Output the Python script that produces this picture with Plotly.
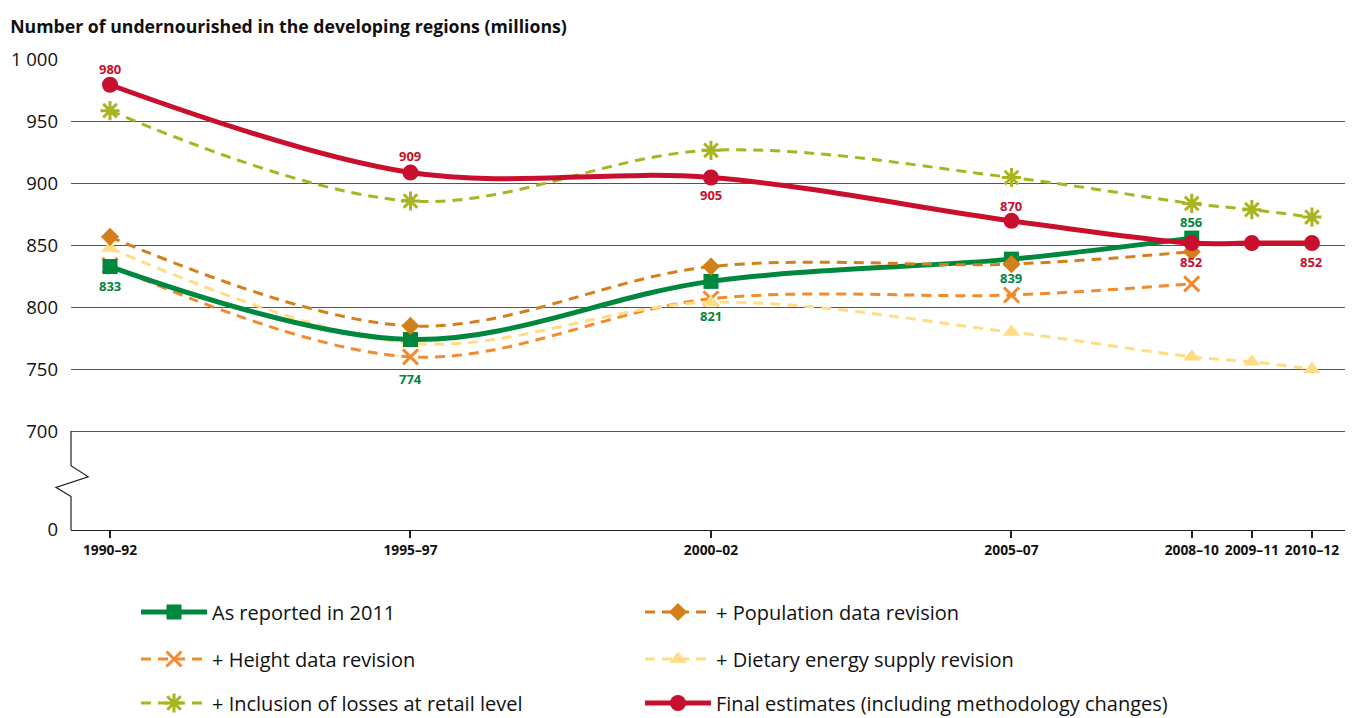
import plotly.graph_objects as go

periods = ["1990–92", "1995–97", "2000–02", "2005–07", "2008–10", "2009–11", "2010–12"]
period_mid = [1991, 1996, 2001, 2006, 2009, 2010, 2011]

as_reported_2011 = [833, 774, 821, 839, 856]
population_rev = [857, 785, 833, 835, 845]
height_rev = [834, 760, 807, 810, 819]
dietary_rev = [848, 771, 804, 780, 760, 756, 750]
losses_retail = [959, 886, 927, 905, 884, 879, 873]
final_estimates = [980, 909, 905, 870, 852, 852, 852]

green_labels = ["833", "774", "821", "839", "856"]
red_labels = ["980", "909", "905", "870", "852", "", "852"]
# label offsets (px, positive = above the point)
green_shift = [-19, -39, -35, -19, 16]
red_shift = [16, 17, -17, 15, -19, 0, -19]

Y_BREAK = 620  # data value drawn at the "0" position (axis break)

C_GREEN = "#00873E"
C_RED = "#C8102E"
C_POP = "#D4801A"
C_HEIGHT = "#F28A2E"
C_DIET = "#FFDD85"
C_LOSS = "#A9B421"

FONT = "Open Sans"

fig = go.Figure()

# drawing order: height, dietary, green, population, losses, red (legend positions set separately)
fig.add_trace(go.Scatter(
    x=period_mid[:5], y=height_rev, name="+ Height data revision",
    mode="lines+markers",
    line=dict(color=C_HEIGHT, width=3, dash="10px,7px", shape="spline", smoothing=1.0),
    marker=dict(symbol="x-thin-open", size=15, color=C_HEIGHT, line=dict(width=3, color=C_HEIGHT)),
    legend="legend3"))

fig.add_trace(go.Scatter(
    x=period_mid, y=dietary_rev, name="+ Dietary energy supply revision",
    mode="lines+markers",
    line=dict(color=C_DIET, width=3, dash="10px,7px", shape="spline", smoothing=1.0),
    marker=dict(symbol="triangle-up", size=15, color=C_DIET),
    legend="legend4"))

fig.add_trace(go.Scatter(
    x=period_mid[:5], y=as_reported_2011, name="As reported in 2011",
    mode="lines+markers",
    line=dict(color=C_GREEN, width=5, shape="spline", smoothing=1.0),
    marker=dict(symbol="square", size=15, color=C_GREEN),
    legend="legend", showlegend=True))

fig.add_trace(go.Scatter(
    x=period_mid[:5], y=population_rev, name="+ Population data revision",
    mode="lines+markers",
    line=dict(color=C_POP, width=3, dash="10px,7px", shape="spline", smoothing=1.0),
    marker=dict(symbol="diamond", size=14, color=C_POP),
    legend="legend2"))

fig.add_trace(go.Scatter(
    x=period_mid, y=losses_retail, name="+ Inclusion of losses at retail level",
    mode="lines+markers",
    line=dict(color=C_LOSS, width=3, dash="10px,7px", shape="spline", smoothing=1.0),
    marker=dict(symbol="asterisk-open", size=16, color=C_LOSS, line=dict(width=3, color=C_LOSS)),
    legend="legend5"))

fig.add_trace(go.Scatter(
    x=period_mid, y=final_estimates, name="Final estimates (including methodology changes)",
    mode="lines+markers",
    line=dict(color=C_RED, width=5, shape="spline", smoothing=1.0),
    marker=dict(symbol="circle", size=16, color=C_RED),
    legend="legend6"))

# data labels
for xv, yv, t, s in zip(period_mid, as_reported_2011, green_labels, green_shift):
    if t:
        fig.add_annotation(x=xv, y=yv, text=f"<b>{t}</b>", showarrow=False, yshift=s,
                           font=dict(color=C_GREEN, size=13, family=FONT))
for xv, yv, t, s in zip(period_mid, final_estimates, red_labels, red_shift):
    if t:
        fig.add_annotation(x=xv, y=yv, text=f"<b>{t}</b>", showarrow=False, yshift=s,
                           font=dict(color=C_RED, size=13, family=FONT))

ytickvals = [Y_BREAK, 700, 750, 800, 850, 900, 950, 1000]
yticktext = ["0", "700", "750", "800", "850", "900", "950", "1 000"]

# axis break path (vertical axis with zig-zag between 700 and 0)
fig.add_shape(type="path", xref="paper", yref="y",
              path=f"M 0 700 L 0 672 L 0.0135 663 L -0.0118 654.5 L 0 647 L 0 {Y_BREAK}",
              line=dict(color="#222222", width=1.2))

leg_common = dict(orientation="h", xanchor="left", yanchor="middle",
                  xref="container", yref="container",
                  font=dict(family=FONT, size=20, color="#111111"),
                  itemwidth=66, bgcolor="rgba(0,0,0,0)")
COL1_X = 136 / 1353
COL2_X = 640 / 1353
ROW_Y = [1 - 612 / 718, 1 - 659 / 718, 1 - 703 / 718]

fig.update_layout(
    width=1353, height=718,
    showlegend=True,
    paper_bgcolor="white", plot_bgcolor="white",
    margin=dict(l=71, r=8, t=60, b=188, autoexpand=False),
    font=dict(family=FONT, color="#111111"),
    title=dict(text="<b>Number of undernourished in the developing regions (millions)</b>",
               x=0.0075, xanchor="left", y=1 - 27 / 718, yanchor="middle",
               font=dict(size=17.7, family=FONT, color="#111111")),
    legend=dict(x=COL1_X, y=ROW_Y[0], **leg_common),
    legend2=dict(x=COL2_X, y=ROW_Y[0], **leg_common),
    legend3=dict(x=COL1_X, y=ROW_Y[1], **leg_common),
    legend4=dict(x=COL2_X, y=ROW_Y[1], **leg_common),
    legend5=dict(x=COL1_X, y=ROW_Y[2], **leg_common),
    legend6=dict(x=COL2_X, y=ROW_Y[2], **leg_common),
    xaxis=dict(range=[1990.351, 2011.55], tickvals=period_mid, ticktext=periods,
               automargin=False,
               showgrid=False, zeroline=False, showline=True, linecolor="#222222", linewidth=1.2,
               ticks="outside", ticklen=7, tickwidth=1.5, tickcolor="#222222",
               tickfont=dict(size=13.8, family=FONT, color="#111111", weight="bold")),
    yaxis=dict(range=[Y_BREAK, 1000], tickvals=ytickvals, ticktext=yticktext,
               automargin=False,
               showgrid=True, gridcolor="#555555", gridwidth=1, zeroline=False,
               showline=False, ticks="", ticklabelstandoff=12,
               tickfont=dict(size=18.5, family=FONT, color="#111111")),
)

fig.write_html("out.html", config={"displayModeBar": False},
               post_script="document.body.style.margin='0';document.body.style.overflow='hidden';")
